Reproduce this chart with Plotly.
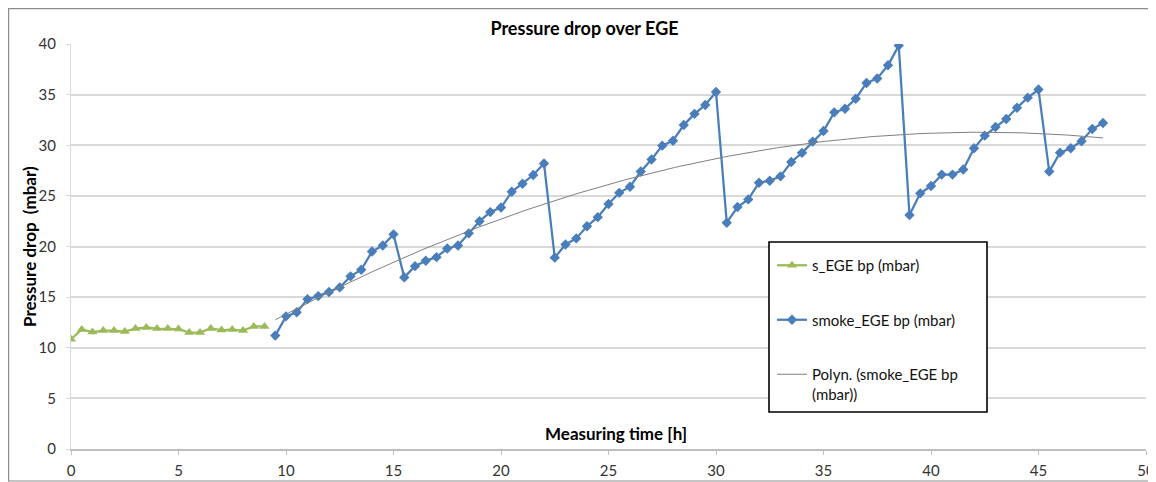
import numpy as np
import plotly.graph_objects as go

# ---- data ----
s_time = [0, 0.5, 1, 1.5, 2, 2.5, 3, 3.5, 4, 4.5, 5, 5.5, 6, 6.5, 7, 7.5, 8, 8.5, 9]
s_ege = [10.85, 11.8, 11.55, 11.7, 11.7, 11.6, 11.9, 12.0, 11.9, 11.9, 11.85, 11.5,
         11.5, 11.9, 11.75, 11.8, 11.7, 12.1, 12.1]

smoke_time = [9.5 + 0.5 * i for i in range(78)]
smoke_ege = [11.2, 13.1, 13.5, 14.8, 15.1, 15.5, 15.96, 17.05, 17.7, 19.5, 20.1, 21.2,
             16.95, 18.06, 18.6, 18.95, 19.8, 20.1, 21.3, 22.5, 23.4, 23.85, 25.4, 26.2,
             27.06, 28.2,
             18.9, 20.2, 20.8, 22.0, 22.9, 24.2, 25.3, 25.9, 27.4, 28.6, 29.96, 30.45,
             32.0, 33.1, 33.97, 35.26,
             22.35, 23.9, 24.65, 26.3, 26.5, 26.93, 28.35, 29.25, 30.36, 31.4, 33.25,
             33.6, 34.6, 36.15, 36.6, 37.9, 39.84,
             23.1, 25.25, 25.97, 27.1, 27.1, 27.6, 29.7, 30.95, 31.8, 32.6, 33.7, 34.7,
             35.5,
             27.4, 29.27, 29.7, 30.4, 31.6, 32.2]

x_ticks = [0, 5, 10, 15, 20, 25, 30, 35, 40, 45, 50]
y_ticks = [0, 5, 10, 15, 20, 25, 30, 35, 40]

# polynomial (order 2) trendline, as the spreadsheet computed it from the smoke series
coef = np.polyfit(smoke_time, smoke_ege, 2)
trend_x = np.linspace(smoke_time[0], smoke_time[-1], 200)
trend_y = np.polyval(coef, trend_x)

# the page body has an 8px margin, so the figure is laid out in window pixels minus 8
OFF = 8
VW, VH = 1156, 482
W, H = VW - OFF, VH - OFF
PL, PR, PT, PB = 71, 1146, 44, 449          # plot area, window pixels
L, R, T, B = PL - OFF, VW - PR, PT - OFF, VH - PB
pw, ph = W - L - R, H - T - B

def px(xv):
    return (xv - OFF - L) / pw

def py(yv):
    return (H - B - (yv - OFF)) / ph

FONT = "Lato"
fig = go.Figure()

fig.add_trace(go.Scatter(
    x=s_time, y=s_ege, mode="lines+markers", name="s_EGE bp (mbar)",
    line=dict(color="#9BBB59", width=2.25),
    marker=dict(symbol="triangle-up", size=9, color="#9BBB59"),
    legendgroup="a"))
fig.add_trace(go.Scatter(
    x=smoke_time, y=smoke_ege, mode="lines+markers", name="smoke_EGE bp (mbar)",
    line=dict(color="#4A7EBB", width=2.25),
    marker=dict(symbol="diamond", size=8, color="#4A7EBB"),
    legendgroup="b"))
fig.add_trace(go.Scatter(
    x=trend_x, y=trend_y, mode="lines", name="Polyn. (smoke_EGE bp<br>(mbar))",
    line=dict(color="#7F7F7F", width=1),
    legendgroup="c"))

# outer chart-area border
fig.add_shape(type="rect", xref="paper", yref="paper",
              x0=px(8.6), x1=px(1170), y0=py(481), y1=py(8.6),
              line=dict(color="#8C8C8C", width=1.2), fillcolor="rgba(0,0,0,0)", layer="below")
# legend box
fig.add_shape(type="rect", xref="paper", yref="paper",
              x0=px(769), x1=px(987), y0=py(412), y1=py(242),
              line=dict(color="#000000", width=1.6), fillcolor="white", layer="above")

fig.add_annotation(text="<b>Measuring time [h]</b>", xref="paper", yref="paper",
                   x=px(616), y=py(433), showarrow=False,
                   xanchor="center", yanchor="middle",
                   font=dict(family=FONT, size=17, color="#000"))
fig.add_annotation(text="<b>Pressure drop  (mbar)</b>", xref="paper", yref="paper",
                   x=px(29), y=py(247), showarrow=False, textangle=-90,
                   xanchor="center", yanchor="middle",
                   font=dict(family=FONT, size=17, color="#000"))

fig.update_layout(
    width=W, height=H,
    margin=dict(l=L, r=R, t=T, b=B, autoexpand=False),
    paper_bgcolor="white", plot_bgcolor="white",
    font=dict(family=FONT, size=15, color="#333333"),
    title=dict(text="<b>Pressure drop over EGE</b>", xref="container", yref="container",
               x=(584.5 - OFF) / W, y=1 - (29 - OFF) / H, xanchor="center", yanchor="middle",
               font=dict(family=FONT, size=18, color="#000")),
    legend=dict(x=px(772), y=py(249), xanchor="left", yanchor="top",
                bgcolor="rgba(0,0,0,0)", borderwidth=0, tracegroupgap=32,
                valign="top", font=dict(family=FONT, size=15, color="#111")),
    showlegend=True,
)
fig.update_xaxes(range=[0, 50], tickvals=x_ticks, showgrid=False, zeroline=False,
                 showline=True, linecolor="#BFBFBF", linewidth=1.5,
                 ticks="outside", ticklen=4, tickcolor="#BFBFBF",
                 ticklabelstandoff=3, tickfont=dict(color="#333333", size=15))
fig.update_yaxes(range=[0, 40], tickvals=y_ticks, showgrid=True, gridcolor="#D9D9D9",
                 gridwidth=1.5, zeroline=False,
                 showline=True, linecolor="#D9D9D9", linewidth=1,
                 ticks="outside", ticklen=4, tickcolor="#D9D9D9",
                 ticklabelstandoff=7, tickfont=dict(color="#333333", size=15))

fig.write_html("out.html")
